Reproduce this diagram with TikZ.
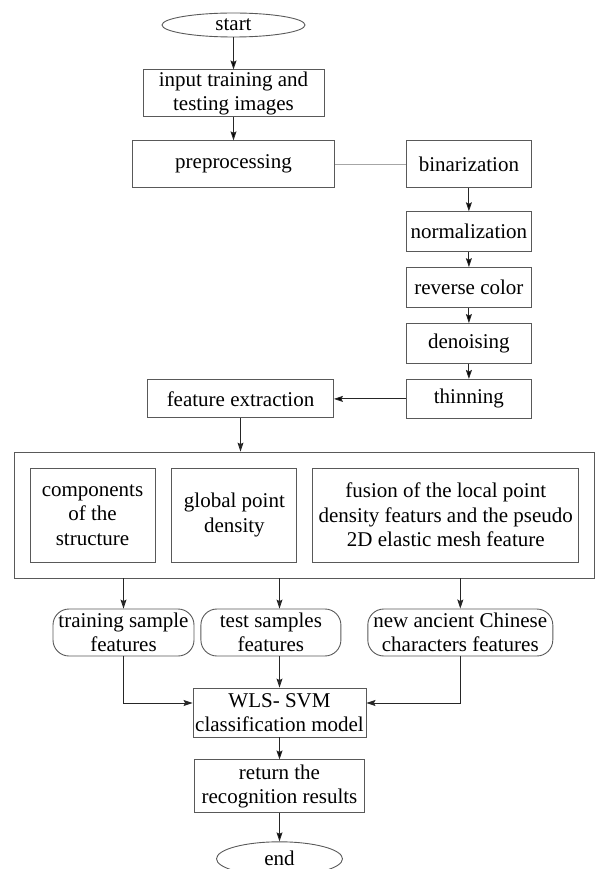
\documentclass[tikz,border=0pt]{standalone}
\usepackage{fontspec}
\setmainfont{Liberation Serif}
\usepackage{tikz}
\usetikzlibrary{arrows.meta,fit,positioning,shapes.geometric}
\tikzset{
    %Define standard arrow tip
    >={Stealth[length=9pt,width=6pt,inset=1.5pt]},
    %Define style for boxes
    procrect/.style={
           rectangle,
           draw=black!65, line width=0.9pt,
           inner sep=0pt,
           minimum height=39pt,
           align=center},
    featround/.style={
           rectangle,
           rounded corners=16pt,
           draw=black!65, line width=0.9pt,
           inner sep=0pt,
           minimum height=47pt,
           align=center},
    term/.style={
           ellipse,
           draw=black!65, line width=0.9pt,
           inner sep=0pt},
    % Define arrow style
    pil/.style={
           ->,
           draw=black!85,
           line width=0.9pt},
}

\begin{document}
\begin{tikzpicture}[->,line width=0.9pt,node distance=15pt,font=\fontsize{21}{24.5}\selectfont]
\useasboundingbox (0,0) rectangle (595pt,-869pt);
\node[term, minimum width=143pt, minimum height=24pt] (1) at (233.5pt,-25pt) {start};
\node[procrect, minimum width=181pt, minimum height=47pt, below=32pt of 1] (2) {input training and\\testing images};
\node[procrect, minimum width=202pt, minimum height=47pt, below=23pt of 2] (3) {preprocessing};
\node[procrect, minimum width=125pt, minimum height=47pt, right=71pt of 3] (4) {binarization};
\node[procrect, minimum width=125pt, minimum height=40pt, below=23pt of 4] (5) {normalization};
\node[procrect, minimum width=125pt, minimum height=40pt, below=of 5] (6) {reverse color};
\node[procrect, minimum width=125pt, minimum height=40pt, below=of 6] (7) {denoising};
\node[procrect, minimum width=125pt, minimum height=39pt, below=of 7] (8) {thinning};
\node[procrect, minimum width=186pt, minimum height=38pt, left=72pt of 8] (9) {feature extraction};
% feature block
\node[procrect, minimum width=125pt, minimum height=94pt] (10) at (92.5pt,-515pt) {components\\of the\\structure};
\node[procrect, minimum width=125pt, minimum height=94pt, right=16pt of 10] (11) {global point\\density};
\node[procrect, minimum width=266pt, minimum height=94pt, right=15pt of 11] (12) {fusion of the local point\\density featurs and the pseudo\\2D elastic mesh feature};
\node[procrect, fit=(10)(11)(12), inner xsep=15pt, inner ysep=15.5pt] (13) {};
% classification
\node[featround, minimum width=141pt] (14) at (123.5pt,-632.5pt) {training sample\\features};
\node[featround, minimum width=140pt, right=6pt of 14] (15) {test samples\\features};
\node[featround, minimum width=185pt, right=26pt of 15] (16) {new ancient Chinese\\characters features};
\node[procrect, minimum width=173pt, minimum height=49pt] (17) at (279.5pt,-712.5pt) {WLS- SVM\\classification model};
\node[procrect, minimum width=170pt, minimum height=53pt, below=22pt of 17] (18) {return the\\recognition results};
\node[term, minimum width=126pt, minimum height=34pt, below=28pt of 18] (19) {end};
\path[pil]
	(1) edge (2)
	(2) edge (3)
	(4) edge (5)
	(5) edge (6)
	(6) edge (7)
	(7) edge (8)
	(8) edge (9)
	(17) edge (18)
	(18) edge (19);
\draw[-,black!35] (3) -- (4);
\draw[pil] (9.south) -- (9.south |- 13.north);
\draw[pil] (14.north |- 13.south) -- (14);
\draw[pil] (17.north |- 13.south) -- (17.north |- 15.north);
\draw[pil] (16.north |- 13.south) -- (16);
\draw[pil] (14) |- ([yshift=9.5pt]17.west);
\draw[pil] (17.north |- 15.south) -- (17);
\draw[pil] (16) |- ([yshift=9.5pt]17.east);
\end{tikzpicture}
\end{document}
